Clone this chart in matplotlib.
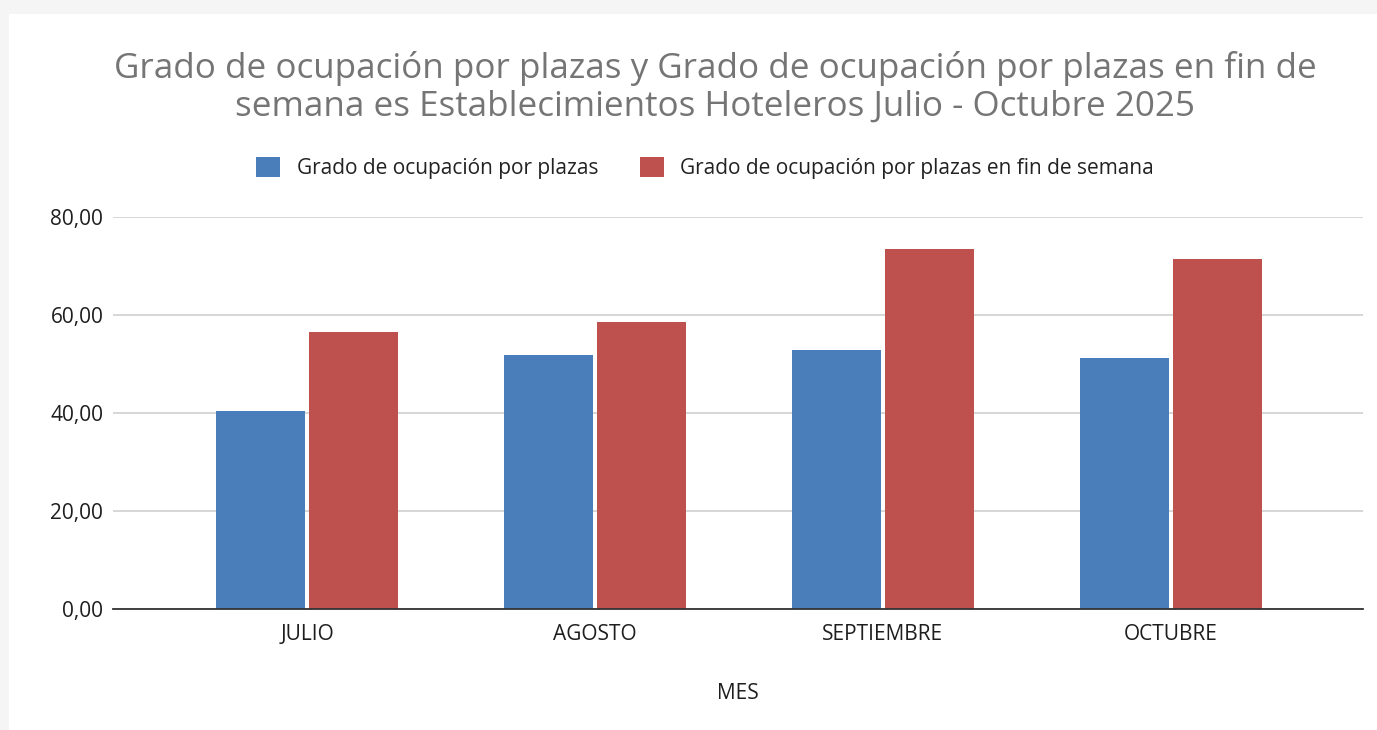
import matplotlib
matplotlib.use("Agg")
import matplotlib.pyplot as plt
import numpy as np
from matplotlib.ticker import FuncFormatter

months = ["JULIO", "AGOSTO", "SEPTIEMBRE", "OCTUBRE"]
ocupacion = [40.4, 51.9, 52.9, 51.2]
ocupacion_finde = [56.5, 58.6, 73.5, 71.4]
series_names = ["Grado de ocupación por plazas",
                "Grado de ocupación por plazas en fin de semana"]
title = ("Grado de ocupación por plazas y Grado de ocupación por plazas en fin de\n"
         "semana es Establecimientos Hoteleros Julio - Octubre 2025")
yticks = [0, 20, 40, 60, 80]

plt.rcParams['font.family'] = ['Open Sans', 'DejaVu Sans']

W, H = 1377, 730
fig = plt.figure(figsize=(W/100, H/100), dpi=100)
fig.patch.set_facecolor("#f5f5f5")
# white panel
panel = plt.Rectangle((9/W, 0), 1 - 9/W, 1 - 14/H, transform=fig.transFigure,
                      facecolor="white", edgecolor="none", zorder=-10)
fig.patches.append(panel)

ax = fig.add_axes([113/W, 1 - 609/H, (1363-113)/W, (609-217)/H], zorder=2)
ax.set_facecolor("none")
x = np.arange(len(months))
bw = 0.31
gap = 0.014
ax.bar(x - bw/2 - gap/2, ocupacion, bw, color="#4a7ebb", label=series_names[0], zorder=3)
ax.bar(x + bw/2 + gap/2, ocupacion_finde, bw, color="#be504d", label=series_names[1], zorder=3)

ax.set_xlim(-0.674, 3.667)
ax.set_ylim(0, 80)
ax.set_yticks(yticks)
ax.yaxis.set_major_formatter(FuncFormatter(lambda v, p: f"{v:.2f}".replace(".", ",")))
ax.set_xticks(x)
ax.set_xticklabels(months)
ax.tick_params(axis='both', length=0, labelsize=15, colors="#1e1e1e")
ax.tick_params(axis='x', pad=11)
ax.tick_params(axis='y', pad=7)
ax.grid(axis='y', color="#d0d0d0", linewidth=1.2, zorder=0)
for s in ["top", "right", "left"]:
    ax.spines[s].set_visible(False)
ax.spines["bottom"].set_color("#333333")
ax.spines["bottom"].set_linewidth(1.3)
ax.spines["bottom"].set_zorder(4)
ax.set_xlabel("MES", fontsize=15, color="#1e1e1e", labelpad=27)

fig.text(715/W, 1 - 87/H, title, ha="center", va="center", fontsize=25.2,
         color="#757575", linespacing=1.13)

fig.legend(loc="center", bbox_to_anchor=(705/W, 1 - 168/H), ncol=2, frameon=False,
           fontsize=15, handlelength=1.15, handleheight=1.15, columnspacing=2.0,
           handletextpad=0.8, labelcolor="#222222")

fig.savefig("out.png", dpi=100, facecolor=fig.get_facecolor())
